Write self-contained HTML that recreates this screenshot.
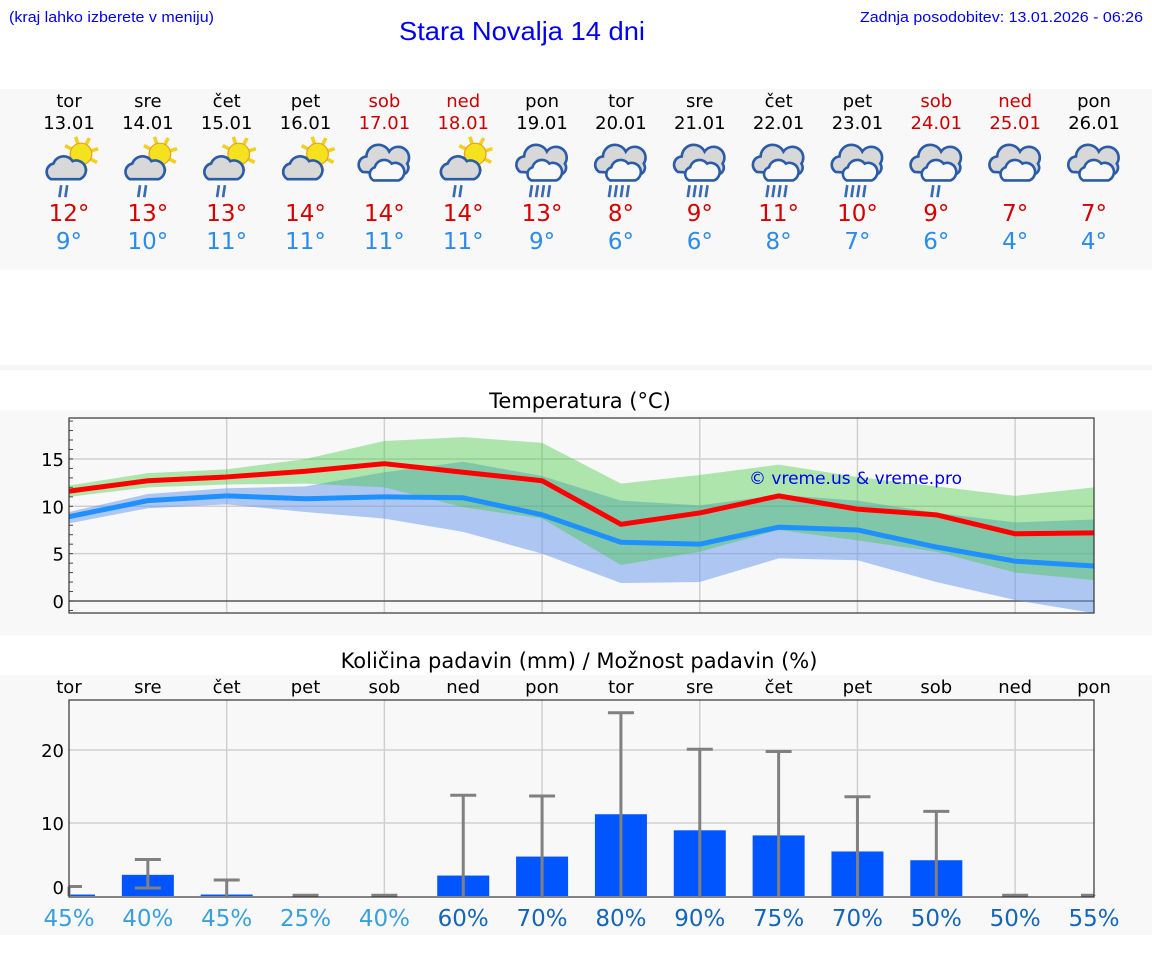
<!DOCTYPE html>
<html><head><meta charset="utf-8"><style>
html,body{margin:0;padding:0;background:#fff;}
svg{display:block;}
text{font-family:"DejaVu Sans",sans-serif;}
.hdr{font-family:"Liberation Sans",sans-serif;}
</style></head><body>
<svg id="page" xmlns="http://www.w3.org/2000/svg" width="1152" height="975" viewBox="0 0 1152 975">
<rect x="0" y="0" width="1152" height="975" fill="#fff"/>
<text class="hdr" x="9" y="22" font-size="14.5" fill="#0000ee" textLength="205" lengthAdjust="spacingAndGlyphs">(kraj lahko izberete v meniju)</text>
<text class="hdr" x="522" y="40" text-anchor="middle" font-size="26" fill="#0000ee" textLength="246" lengthAdjust="spacingAndGlyphs">Stara Novalja 14 dni</text>
<text class="hdr" x="1143" y="22" text-anchor="end" font-size="14.5" fill="#0000ee" textLength="283" lengthAdjust="spacingAndGlyphs">Zadnja posodobitev: 13.01.2026 - 06:26</text>
<rect x="0" y="89" width="1152" height="181" fill="#f8f8f8"/>
<rect x="0" y="365" width="1152" height="5" fill="#f6f6f6"/>
<rect x="0" y="410" width="1152" height="225" fill="#f8f8f8"/>
<rect x="0" y="675" width="1152" height="260" fill="#f8f8f8"/>
<text x="580" y="408" text-anchor="middle" font-size="21" fill="#000">Temperatura (°C)</text>
<text x="579" y="668" text-anchor="middle" font-size="21" fill="#000">Količina padavin (mm) / Možnost padavin (%)</text>
<g id="daily"></g>
<g id="temp"></g>
<g id="precip"></g>
</svg>
<script>
const days=["tor","sre","čet","pet","sob","ned","pon","tor","sre","čet","pet","sob","ned","pon"];
const dates=["13.01","14.01","15.01","16.01","17.01","18.01","19.01","20.01","21.01","22.01","23.01","24.01","25.01","26.01"];
const weekend=[0,0,0,0,1,1,0,0,0,0,0,1,1,0];
const icons=["sunrain","sunrain","sunrain","suncloud","cloud","sunrain","rain","rain","rain","rain","rain","drizzle","cloud","cloud"];
const dayMax=[12,13,13,14,14,14,13,8,9,11,10,9,7,7];
const dayMin=[9,10,11,11,11,11,9,6,6,8,7,6,4,4];

const tMax=[11.6,12.7,13.1,13.7,14.5,13.6,12.7,8.1,9.3,11.1,9.7,9.1,7.1,7.2];
const tMin=[8.9,10.6,11.1,10.8,11.0,10.9,9.1,6.2,6.0,7.8,7.5,5.7,4.2,3.7];
const maxHi=[12.2,13.5,13.9,15.0,16.9,17.3,16.7,12.4,13.3,14.4,13.1,12.1,11.1,12.0];
const maxLo=[11.0,12.0,12.3,12.4,12.0,9.9,8.7,3.8,5.2,7.5,6.4,5.2,3.0,2.2];
const minHi=[9.4,11.3,11.9,12.1,13.6,14.7,13.2,10.6,10.1,11.2,10.6,9.3,8.3,8.6];
const minLo=[8.2,9.8,10.2,9.4,8.7,7.3,5.0,1.9,2.0,4.5,4.3,2.0,0.1,-1.3];
const tempTicks=[0,5,10,15];

const rain=[0.2,2.9,0.2,0,0,2.8,5.4,11.2,9.0,8.3,6.1,4.9,0,0];
const rainHi=[1.3,5.0,2.2,0.1,0.1,13.8,13.7,25.1,20.1,19.8,13.6,11.6,0.1,0.1];
const rainLo=[0,1.1,0,0,0,0,0,0,0,0,0,0,0,0];
const chance=[45,40,45,25,40,60,70,80,90,75,70,50,50,55];
const rainTicks=[0,10,20];

const NS="http://www.w3.org/2000/svg";
function mk(parent,tag,attrs,txt){const e=document.createElementNS(NS,tag);for(const k in attrs)e.setAttribute(k,attrs[k]);if(txt!==undefined)e.textContent=txt;parent.appendChild(e);return e;}
const X0=69,X1=1094;
const xDay=i=>X0+i*(X1-X0)/13;

const dg=document.getElementById('daily');
function drawIcon(g,cx,type){
  const hasSun=type.startsWith('sun');
  if(hasSun){
    const sx=cx+10,sy=156;
    for(let a=0;a<8;a++){const an=a*Math.PI/4-0.3;
      const l=mk(g,'line',{x1:sx+Math.cos(an)*9,y1:sy+Math.sin(an)*9,x2:sx+Math.cos(an)*15,y2:sy+Math.sin(an)*15,stroke:'#f0d020','stroke-width':3});
      }
    const s=mk(g,'circle',{cx:sx,cy:sy,r:9,fill:'#f5e21e',stroke:'#e8a020','stroke-width':1});
    
    const c=mk(g,'path',{d:`M${cx-15} 177 a7 7 0 0 1 2 -13 a9 9 0 0 1 16 -2 a7 7 0 0 1 6 15 z`,fill:'#d8d8d8',stroke:'#2a5ca8','stroke-width':2.2});
    
  } else {
    const c1=mk(g,'path',{d:`M${cx-18} 171 a7 7 0 0 1 3 -13 a10 10 0 0 1 19 -4 a9 9 0 0 1 15 10 a6 6 0 0 1 -3 9 z`,fill:'#d8d8d8',stroke:'#2a5ca8','stroke-width':2.2});
    
    const c2=mk(g,'path',{d:`M${cx-9} 178 a6 6 0 0 1 1 -11 a8 8 0 0 1 14 -3 a7 7 0 0 1 6 14 z`,fill:'#f8f8f8',stroke:'#2a5ca8','stroke-width':2.2});
    
  }
  let drops=0,dx=cx-6;
  if(type==='sunrain'||type==='drizzle'){drops=2;dx=hasSun?cx-8:cx-4;}
  if(type==='rain'){drops=4;dx=cx-10;}
  for(let d=0;d<drops;d++){const l=mk(g,'line',{x1:dx+d*5+1.5,y1:182,x2:dx+d*5,y2:192,stroke:'#3a6ab0','stroke-width':2.2});
    }
}
days.forEach((d,i)=>{
  const x=xDay(i);const col=weekend[i]?'#cc0000':'#000';
  const g=mk(dg,'g',{});
  
  let t=mk(g,'text',{x:x,y:107,'text-anchor':'middle','font-size':18,fill:col},d);
  
  t=mk(g,'text',{x:x,y:129,'text-anchor':'middle','font-size':18,fill:col},dates[i]);
  
  const ig=mk(g,'g',{transform:`translate(${x},166) scale(1.2) translate(${-x},-166)`});
  
  drawIcon(ig,x,icons[i]);
  t=mk(g,'text',{x:x,y:221,'text-anchor':'middle','font-size':23,fill:'#d40000'},dayMax[i]+'°');
  
  t=mk(g,'text',{x:x,y:249,'text-anchor':'middle','font-size':23,fill:'#2b8be8'},dayMin[i]+'°');
  
});

const tg=document.getElementById('temp');
const TY0=418,TY1=613,yT=v=>601-v*9.47;
let r=mk(tg,'rect',{x:X0,y:TY0,width:X1-X0,height:TY1-TY0,fill:'#f8f8f8'});

for(let i=2;i<13;i+=2){const l=mk(tg,'line',{x1:xDay(i),y1:TY0,x2:xDay(i),y2:TY1,stroke:'#d0d0d0','stroke-width':1.5});
  }
tempTicks.forEach(v=>{const l=mk(tg,'line',{x1:X0,y1:yT(v),x2:X1,y2:yT(v),stroke:v===0?'#555':'#d0d0d0','stroke-width':1.5});
  
  const t=mk(tg,'text',{x:X0-5,y:yT(v)+7,'text-anchor':'end','font-size':18,fill:'#000'},String(v));
  });
for(let v=-1;v<=19;v++){const l=mk(tg,'line',{x1:X0,y1:yT(v),x2:X0+4,y2:yT(v),stroke:'#444','stroke-width':1});
  }
function band(lo,hi,fill,name){let d='';hi.forEach((v,i)=>{d+=(i?'L':'M')+xDay(i)+' '+yT(v)+' ';});
  for(let i=lo.length-1;i>=0;i--)d+='L'+xDay(i)+' '+yT(lo[i])+' ';
  const p=mk(tg,'path',{d:d+'Z',fill:fill});return p;}
band(minLo,minHi,'rgba(100,150,235,0.5)','min-temp-range');
band(maxLo,maxHi,'rgba(60,200,60,0.4)','max-temp-range');
function line(vals,col,name){const p=mk(tg,'polyline',{points:vals.map((v,i)=>xDay(i)+','+yT(v)).join(' '),fill:'none',stroke:col,'stroke-width':5,'stroke-linejoin':'round'});
  }
line(tMin,'#1e90ff','min-temp-line');
line(tMax,'#ff0000','max-temp-line');
r=mk(tg,'rect',{x:X0,y:TY0,width:X1-X0,height:TY1-TY0,fill:'none',stroke:'#333','stroke-width':1.2});

let ct=mk(tg,'text',{x:749,y:484,'font-size':17,fill:'#0000ee','font-family':'Liberation Sans, sans-serif'},'© vreme.us & vreme.pro');


const pg=document.getElementById('precip');
const PY0=700,PY1=897,yP=v=>896-v*7.3;
r=mk(pg,'rect',{x:X0,y:PY0,width:X1-X0,height:PY1-PY0,fill:'#f8f8f8'});

for(let i=2;i<13;i+=2){const l=mk(pg,'line',{x1:xDay(i),y1:PY0,x2:xDay(i),y2:PY1,stroke:'#d0d0d0','stroke-width':1.5});
  }
rainTicks.forEach(v=>{if(v>0){const l=mk(pg,'line',{x1:X0,y1:yP(v),x2:X1,y2:yP(v),stroke:'#d0d0d0','stroke-width':1.5});
  }
  const t=mk(pg,'text',{x:X0-5,y:yP(v)+(v===0?-2:7),'text-anchor':'end','font-size':18,fill:'#000'},String(v));
  });
const bw=52;
rain.forEach((v,i)=>{const x=xDay(i);
  const x0=Math.max(X0,x-bw/2),x1=Math.min(X1,x+bw/2);
  if(v>0){const b=mk(pg,'rect',{x:x0,y:yP(v),width:x1-x0,height:yP(0)-yP(v),fill:'#0055ff'});
    }
  const ex0=Math.max(X0,x-13),ex1=Math.min(X1,x+13);
  let l=mk(pg,'line',{x1:x,y1:yP(rainLo[i]),x2:x,y2:yP(rainHi[i]),stroke:'#808080','stroke-width':3});
  
  l=mk(pg,'line',{x1:ex0,y1:yP(rainHi[i]),x2:ex1,y2:yP(rainHi[i]),stroke:'#808080','stroke-width':3});
  
  if(rainLo[i]>0){l=mk(pg,'line',{x1:ex0,y1:yP(rainLo[i]),x2:ex1,y2:yP(rainLo[i]),stroke:'#808080','stroke-width':3});
    }
  let t=mk(pg,'text',{x:x,y:693,'text-anchor':'middle','font-size':18,fill:'#000'},days[i]);
  
  t=mk(pg,'text',{x:x,y:926,'text-anchor':'middle','font-size':23,fill:chance[i]>=50?'#1565b8':'#3aa0dc'},chance[i]+'%');
  
});
r=mk(pg,'rect',{x:X0,y:PY0,width:X1-X0,height:PY1-PY0,fill:'none',stroke:'#333','stroke-width':1.2});

</script>
</body></html>
